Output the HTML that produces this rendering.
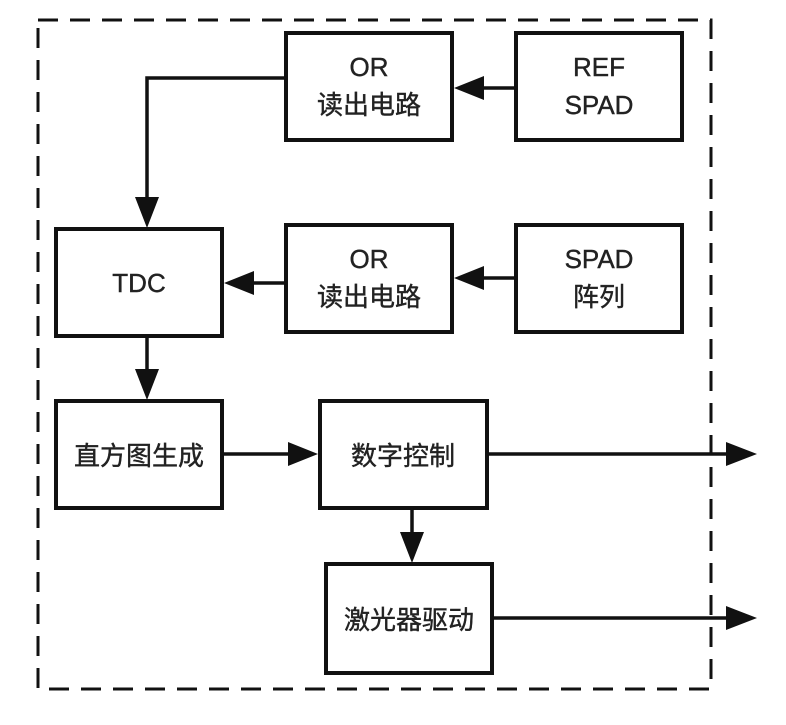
<!DOCTYPE html>
<html><head><meta charset="utf-8"><style>
html,body{margin:0;padding:0;background:#fff;}
svg text{font-family:"Liberation Sans","Noto Sans CJK SC",sans-serif;fill:#222;}
</style></head><body>
<svg width="786" height="720" viewBox="0 0 786 720" xmlns="http://www.w3.org/2000/svg">
<rect x="38" y="20" width="673" height="669" fill="none" stroke="#111" stroke-width="3" stroke-dasharray="20,12"/>
<g fill="#fff" stroke="#111" stroke-width="4">
<rect x="286" y="33" width="166" height="107"/>
<rect x="516" y="33" width="166" height="107"/>
<rect x="56" y="229" width="166" height="107"/>
<rect x="286" y="225" width="166" height="107"/>
<rect x="516" y="225" width="166" height="107"/>
<rect x="56" y="401" width="166" height="107"/>
<rect x="320" y="401" width="167" height="107"/>
<rect x="326" y="564" width="166" height="109"/>
</g>
<g stroke="#111" stroke-width="3.5" fill="none">
<polyline points="286,78 147,78 147,205"/>
<line x1="516" y1="88" x2="475" y2="88"/>
<line x1="286" y1="283" x2="245" y2="283"/>
<line x1="516" y1="278" x2="475" y2="278"/>
<line x1="147" y1="336" x2="147" y2="380"/>
<line x1="222" y1="454" x2="295" y2="454"/>
<line x1="487" y1="454" x2="735" y2="454"/>
<line x1="412" y1="508" x2="412" y2="543"/>
<line x1="492" y1="618" x2="735" y2="618"/>
</g>
<g fill="#111">
<polygon points="147,228 135,197 159,197"/>
<polygon points="454,88 484,76 484,100"/>
<polygon points="224,283 254,271 254,295"/>
<polygon points="454,278 484,266 484,290"/>
<polygon points="147,400 135,369 159,369"/>
<polygon points="318,454 288,442 288,466"/>
<polygon points="757,454 726,442 726,466"/>
<polygon points="412,563 400,532 424,532"/>
<polygon points="757,618 726,606 726,630"/>
</g>
<g font-size="26" text-anchor="middle" stroke="#222" stroke-width="0.4">
<text x="369" y="76">OR</text>
<text x="369" y="114">读出电路</text>
<text x="599" y="76">REF</text>
<text x="599" y="114">SPAD</text>
<text x="139" y="292">TDC</text>
<text x="369" y="268">OR</text>
<text x="369" y="306">读出电路</text>
<text x="599" y="268">SPAD</text>
<text x="599" y="306">阵列</text>
<text x="139" y="465">直方图生成</text>
<text x="403" y="465">数字控制</text>
<text x="409" y="629">激光器驱动</text>
</g>
</svg>
</body></html>
